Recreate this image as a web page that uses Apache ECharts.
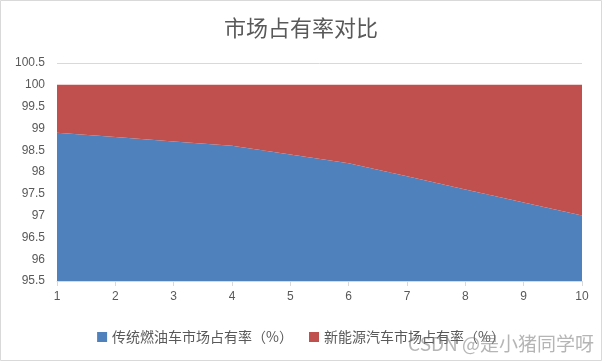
<!DOCTYPE html>
<html><head><meta charset="utf-8">
<script src="https://cdn.jsdelivr.net/npm/echarts@6/dist/echarts.min.js"></script>
<style>html,body{margin:0;padding:0;background:#fff}#c{width:602px;height:361px}</style>
</head><body><div id="c"></div>
<script>
const categories = ['1','2','3','4','5','6','7','8','9','10'];
const fuelShare = [98.9, 98.8, 98.7, 98.6, 98.4, 98.2, 97.9, 97.6, 97.3, 97.0];
const evShare = [1.1, 1.2, 1.3, 1.4, 1.6, 1.8, 2.1, 2.4, 2.7, 3.0];
const seriesNames = ['传统燃油车市场占有率（%）', '新能源汽车市场占有率（%）'];
const titleText = '市场占有率对比';

const chart = echarts.init(document.getElementById('c'));
const font = '"Microsoft YaHei","Noto Sans CJK SC",sans-serif';
chart.setOption({
  animation: false,
  title: { text: titleText, left: 'center', top: 12, textStyle: { fontSize: 22, fontWeight: 'normal', color: '#595959', fontFamily: font } },
  legend: { bottom: 12, left: 'center', itemWidth: 10, itemHeight: 10, itemGap: 16, icon: 'rect',
    textStyle: { fontSize: 14, color: '#595959', fontFamily: font } },
  grid: { left: 57, right: 20, top: 63, bottom: 80 },
  xAxis: { type: 'category', data: categories, boundaryGap: false,
    axisLine: { lineStyle: { color: '#d9d9d9' } },
    axisTick: { show: true, alignWithLabel: true, length: 5, lineStyle: { color: '#d9d9d9' } },
    axisLabel: { color: '#595959', fontSize: 12, margin: 10 } },
  yAxis: { type: 'value', min: 95.5, max: 100.5, interval: 0.5,
    axisLine: { show: false }, axisTick: { show: false },
    splitLine: { lineStyle: { color: '#d9d9d9' } },
    axisLabel: { color: '#595959', fontSize: 12, margin: 12 } },
  series: [
    { name: seriesNames[0], type: 'line', stack: 's', data: fuelShare, symbol: 'none',
      lineStyle: { width: 0 }, areaStyle: { color: '#4F81BD', opacity: 1 }, itemStyle: { color: '#4F81BD' } },
    { name: seriesNames[1], type: 'line', stack: 's', data: evShare, symbol: 'none',
      lineStyle: { width: 0 }, areaStyle: { color: '#C0504D', opacity: 1 }, itemStyle: { color: '#C0504D' } }
  ],
  graphic: [
    { type: 'rect', shape: { x: 0.5, y: 0.5, width: 601, height: 360 }, style: { fill: 'none', stroke: '#d9d9d9', lineWidth: 1 }, silent: true },
    { type: 'text', right: 8, bottom: 8, z: 100, style: { text: 'CSDN @是小猪同学呀', fontSize: 19, fill: 'rgba(120,120,120,0.55)', fontFamily: font } }
  ]
});
</script></body></html>
